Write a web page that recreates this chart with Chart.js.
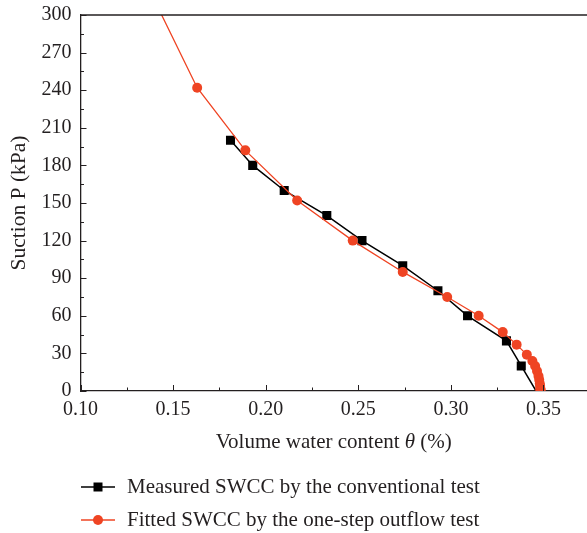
<!DOCTYPE html>
<html lang="en">
<head>
    <meta charset="UTF-8">
    <title>SWCC comparison</title>
    <script src="https://cdn.jsdelivr.net/npm/chart.js"></script>
    <style>
        html, body { margin: 0; padding: 0; background: #fff; }
        #wrap { width: 587px; height: 533px; }
    </style>
</head>
<body>
    <div id="wrap"><canvas id="swccChart" width="587" height="533"></canvas></div>

    <script>
        // Measured SWCC (conventional test)
        const measuredTheta   = [0.181, 0.193, 0.210, 0.233, 0.252, 0.274, 0.293, 0.309, 0.330, 0.338, 0.346];
        const measuredSuction = [200, 180, 160, 140, 120, 100, 80, 60, 40, 20, 0];

        // Fitted SWCC (one-step outflow test)
        const fittedTheta   = [0.124, 0.163, 0.189, 0.217, 0.247, 0.274, 0.298, 0.315, 0.328, 0.3355, 0.341,
                               0.344, 0.3455, 0.3465, 0.3473, 0.3477, 0.3480, 0.3482, 0.3483, 0.3484, 0.3484];
        const fittedSuction = [360, 242, 192, 152, 120, 95, 75, 60, 47, 37, 29,
                               24, 20, 16, 12, 9, 6, 4, 2, 1, 0];

        const legendLabels = ['Measured SWCC by the conventional test', 'Fitted SWCC by the one-step outflow test'];

        const INK = '#231f20';
        const RED = '#ef4423';
        const FONT = '"Liberation Serif", "DejaVu Serif", serif';

        const toPoints = (xs, ys) => xs.map((v, i) => ({ x: v, y: ys[i] }));
        const isMajor = (v, step) => Math.abs(v / step - Math.round(v / step)) < 1e-6;

        // fixed axis box, no extra label overflow padding
        const fixBox = (s, size) => {
            if (s.isHorizontal()) s.height = size; else s.width = size;
            s.paddingLeft = s.paddingRight = s.paddingTop = s.paddingBottom = 0;
        };

        // axis frame extras, inward ticks, axis titles and legend
        const decorations = {
            id: 'decorations',
            afterDraw(chart) {
                const { ctx, chartArea: a, scales: { x, y } } = chart;
                ctx.save();
                ctx.strokeStyle = INK;
                ctx.lineWidth = 1.3;

                ctx.beginPath();
                ctx.moveTo(a.left, a.top);
                ctx.lineTo(a.right, a.top);
                ctx.stroke();

                ctx.lineWidth = 1;
                x.ticks.forEach(t => {
                    const px = Math.round(x.getPixelForValue(t.value)) + 0.5;
                    const len = isMajor(t.value, 0.05) ? 6 : 3.5;
                    ctx.beginPath();
                    ctx.moveTo(px, a.bottom);
                    ctx.lineTo(px, a.bottom - len);
                    ctx.stroke();
                });
                y.ticks.forEach(t => {
                    const py = Math.round(y.getPixelForValue(t.value)) + 0.5;
                    const len = isMajor(t.value, 30) ? 6 : 3.5;
                    ctx.beginPath();
                    ctx.moveTo(a.left, py);
                    ctx.lineTo(a.left + len, py);
                    ctx.stroke();
                });

                // x title with italic theta
                ctx.fillStyle = INK;
                ctx.textBaseline = 'middle';
                ctx.textAlign = 'left';
                const normal = '21px ' + FONT;
                const italic = 'italic 21px ' + FONT;
                const parts = [['Volume water content ', normal], ['\u03B8', italic], [' (%)', normal]];
                let total = 0;
                parts.forEach(p => { ctx.font = p[1]; total += ctx.measureText(p[0]).width; });
                let cx = (a.left + a.right) / 2 - total / 2;
                parts.forEach(p => {
                    ctx.font = p[1];
                    ctx.fillText(p[0], cx, 442);
                    cx += ctx.measureText(p[0]).width;
                });

                // y title
                ctx.save();
                ctx.translate(19, (a.top + a.bottom) / 2);
                ctx.rotate(-Math.PI / 2);
                ctx.textAlign = 'center';
                ctx.font = '21.5px ' + FONT;
                ctx.fillText('Suction P (kPa)', 0, 0);
                ctx.restore();

                // legend
                const rows = [487, 520];
                chart.data.datasets.forEach((ds, i) => {
                    const ly = rows[i];
                    ctx.strokeStyle = ds.borderColor;
                    ctx.lineWidth = ds.borderWidth;
                    ctx.beginPath();
                    ctx.moveTo(81, ly);
                    ctx.lineTo(115, ly);
                    ctx.stroke();
                    ctx.fillStyle = ds.backgroundColor;
                    ctx.beginPath();
                    if (ds.pointStyle === 'rect') {
                        ctx.rect(98 - 4.5, ly - 4.5, 9, 9);
                    } else {
                        ctx.arc(98, ly, 5, 0, Math.PI * 2);
                    }
                    ctx.fill();
                    ctx.fillStyle = INK;
                    ctx.font = normal;
                    ctx.textAlign = 'left';
                    ctx.fillText(ds.label, 127, ly);
                });
                ctx.restore();
            }
        };

        const measuredRadius = measuredSuction.map((v, i) => i === measuredSuction.length - 1 ? 0 : 6.4);

        new Chart(document.getElementById('swccChart'), {
            type: 'line',
            data: {
                datasets: [{
                    label: legendLabels[0],
                    data: toPoints(measuredTheta, measuredSuction),
                    borderColor: '#000',
                    backgroundColor: '#000',
                    borderWidth: 1.5,
                    pointStyle: 'rect',
                    pointRadius: measuredRadius,
                    pointBorderWidth: 0,
                    tension: 0,
                    clip: 0,
                    order: 2
                }, {
                    label: legendLabels[1],
                    data: toPoints(fittedTheta, fittedSuction),
                    borderColor: RED,
                    backgroundColor: RED,
                    borderWidth: 1.3,
                    pointStyle: 'circle',
                    pointRadius: 5,
                    pointBorderWidth: 0,
                    tension: 0,
                    clip: 0,
                    order: 1
                }]
            },
            options: {
                responsive: false,
                animation: false,
                devicePixelRatio: 1,
                layout: { autoPadding: false, padding: { left: 40.5, right: 0, top: 15, bottom: 112 } },
                plugins: {
                    legend: { display: false },
                    tooltip: { enabled: false }
                },
                scales: {
                    x: {
                        type: 'linear',
                        min: 0.10,
                        max: 0.3735,
                        afterFit: s => fixBox(s, 30),
                        grid: { display: false, drawTicks: false },
                        border: { display: true, color: INK, width: 1.3 },
                        ticks: {
                            stepSize: 0.025,
                            includeBounds: false,
                            autoSkip: false,
                            maxRotation: 0,
                            padding: 7,
                            color: INK,
                            font: { family: FONT, size: 20 },
                            callback: v => isMajor(v, 0.05) ? v.toFixed(2) : ''
                        }
                    },
                    y: {
                        type: 'linear',
                        min: 0,
                        max: 300,
                        afterFit: s => fixBox(s, 40),
                        grid: { display: false, drawTicks: false },
                        border: { display: true, color: INK, width: 1.3 },
                        ticks: {
                            stepSize: 15,
                            autoSkip: false,
                            padding: 9,
                            color: INK,
                            font: { family: FONT, size: 20 },
                            callback: v => isMajor(v, 30) ? String(v) : ''
                        }
                    }
                }
            },
            plugins: [decorations]
        });
    </script>
</body>
</html>
